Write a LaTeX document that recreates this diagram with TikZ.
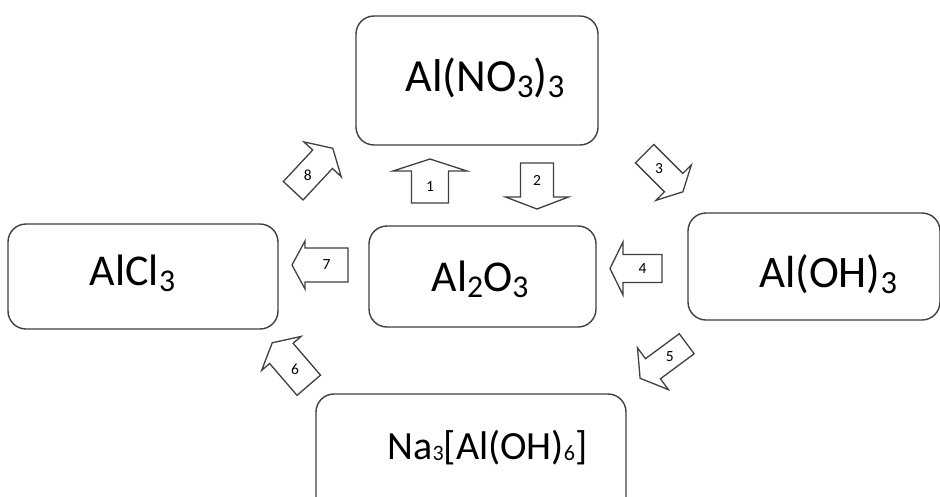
\documentclass[tikz,border=0pt]{standalone}
\usepackage{fontspec}
\setmainfont{Carlito}
\usepackage{graphicx}
% chemical subscripts: regular and small
\newcommand\chsub[1]{\raisebox{-0.15em}{\scalebox{0.72}{#1}}}
\newcommand\chsubsm[1]{\raisebox{-0.04em}{\scalebox{0.55}{#1}}}
\definecolor{linegray}{HTML}{404040}
\tikzset{
  box/.style={draw=linegray, line width=1.4pt, rounded corners=18pt, inner sep=0pt, fill=white},
  formula/.style={anchor=base, inner sep=0pt, text=black},
  arrowline/.style={draw=linegray, line width=1.3pt, line join=miter, fill=white},
  numlabel/.style={inner sep=0pt, font=\fontsize{15.5}{17}\selectfont, text=black}
}
% block arrow: name, centre x, centre y, direction, length, body width, head width, head length, number
\newcommand\blockarrow[9]{%
  \begin{scope}[shift={(#2,#3)}, rotate=#4]
    \draw[arrowline] ({-#5/2},{-#6/2}) -- ({#5/2-#8},{-#6/2}) -- ({#5/2-#8},{-#7/2})
      -- ({#5/2},0) -- ({#5/2-#8},{#7/2}) -- ({#5/2-#8},{#6/2}) -- ({-#5/2},{#6/2}) -- cycle;
    \node[numlabel] (#1) at ({-#8/2},0) {#9};
  \end{scope}}
\begin{document}
\begin{tikzpicture}[x=1pt, y=-1pt]
  \useasboundingbox (0,0) rectangle (940,496);
  \clip (0,0) rectangle (940,496);
  \fill[white] (0,0) rectangle (940,496);

  % compound boxes
  \node[box, minimum width=242pt, minimum height=129pt] (nitrate) at (477,80.5) {};
  \node[box, minimum width=270pt, minimum height=105pt] (chloride) at (143,276.5) {};
  \node[box, minimum width=227pt, minimum height=101pt] (oxide) at (482.5,276.5) {};
  \node[box, minimum width=252pt, minimum height=107pt] (hydroxide) at (814,266.5) {};
  \node[box, minimum width=310pt, minimum height=130pt] (aluminate) at (471,459) {};

  % formulas
  \node[formula, font=\fontsize{46}{50}\selectfont] (t-nitrate) at (485,91) {Al(NO\chsub{3})\chsub{3}};
  \node[formula, font=\fontsize{44}{48}\selectfont] (t-chloride) at (132.5,285) {AlCl\chsub{3}};
  \node[formula, font=\fontsize{44}{48}\selectfont] (t-oxide) at (480,291) {Al\chsub{2}O\chsub{3}};
  \node[formula, font=\fontsize{45}{49}\selectfont] (t-hydroxide) at (828,287) {Al(OH)\chsub{3}};
  \node[formula, font=\fontsize{40}{44}\selectfont] (t-aluminate) at (487.5,459) {Na\chsubsm{3}[Al(OH)\chsubsm{6}]};

  % reaction arrows
  \blockarrow{r1}{430}{181}{90}{44}{37}{74}{12}{1}
  \blockarrow{r2}{537}{186}{-90}{46}{33}{63}{12}{2}
  \blockarrow{r3}{663.75}{172.75}{-45}{54}{26}{50}{13}{3}
  \blockarrow{r4}{636}{268.5}{180}{52}{28}{53}{13}{4}
  \blockarrow{r5}{663.4}{361}{-143.5}{58}{25}{52}{16}{5}
  \blockarrow{r6}{290.5}{364}{130.7}{56}{31}{52}{14}{6}
  \blockarrow{r7}{320}{265}{180}{56}{34}{48}{13}{7}
  \blockarrow{r8}{313}{169.5}{47}{58}{27}{51}{15}{8}
\end{tikzpicture}
\end{document}
